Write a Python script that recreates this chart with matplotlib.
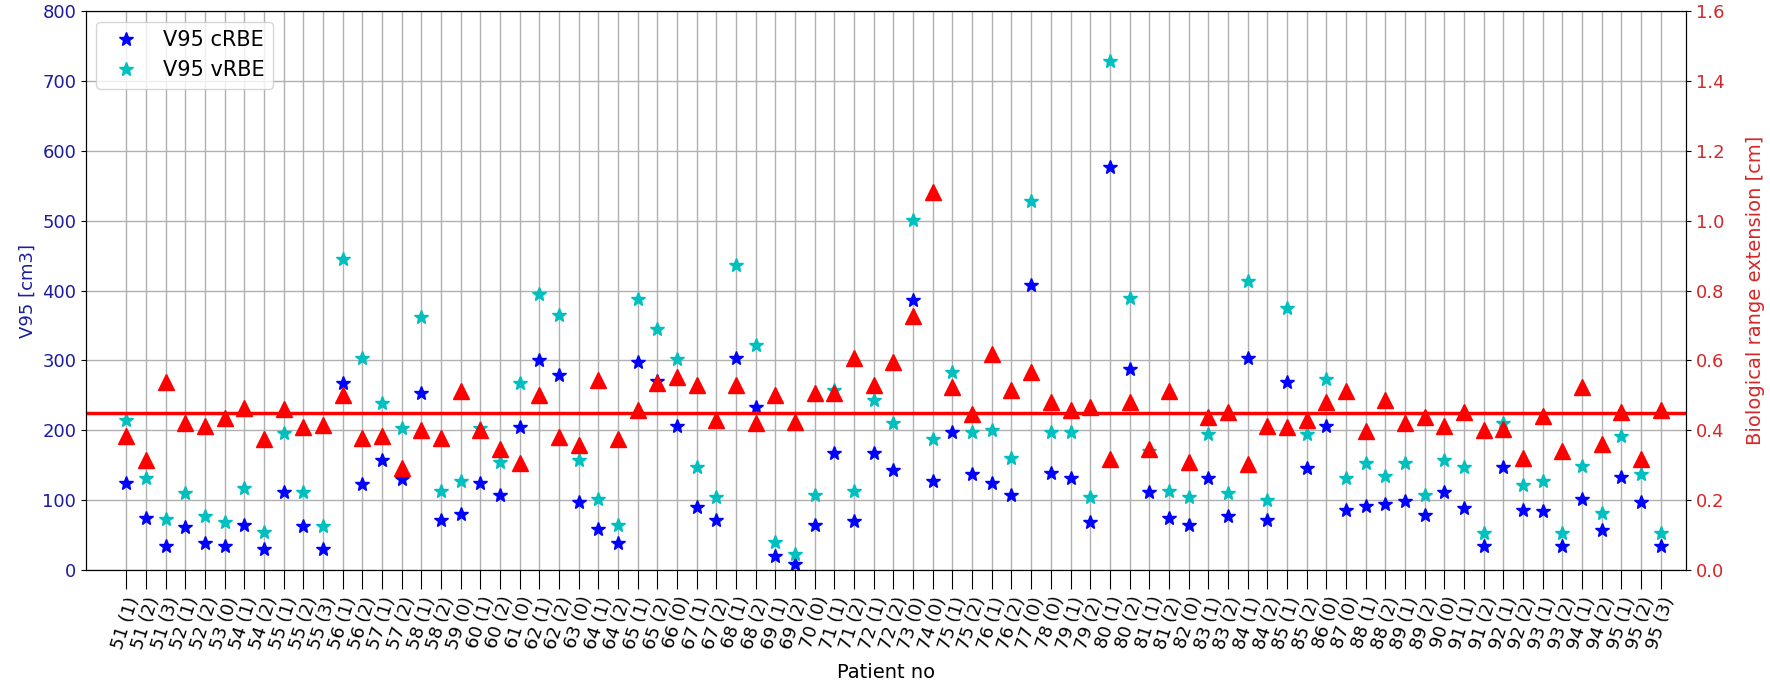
import matplotlib
matplotlib.use("Agg")
import matplotlib.pyplot as plt

# patient / plan labels
labels = ["51 (1)", "51 (2)", "51 (3)", "52 (1)", "52 (2)", "53 (0)", "54 (1)", "54 (2)",
          "55 (1)", "55 (2)", "55 (3)", "56 (1)", "56 (2)", "57 (1)", "57 (2)", "58 (1)",
          "58 (2)", "59 (0)", "60 (1)", "60 (2)", "61 (0)", "62 (1)", "62 (2)", "63 (0)",
          "64 (1)", "64 (2)", "65 (1)", "65 (2)", "66 (0)", "67 (1)", "67 (2)", "68 (1)",
          "68 (2)", "69 (1)", "69 (2)", "70 (0)", "71 (1)", "71 (2)", "72 (1)", "72 (2)",
          "73 (0)", "74 (0)", "75 (1)", "75 (2)", "76 (1)", "76 (2)", "77 (0)", "78 (0)",
          "79 (1)", "79 (2)", "80 (1)", "80 (2)", "81 (1)", "81 (2)", "82 (0)", "83 (1)",
          "83 (2)", "84 (1)", "84 (2)", "85 (1)", "85 (2)", "86 (0)", "87 (0)", "88 (1)",
          "88 (2)", "89 (1)", "89 (2)", "90 (0)", "91 (1)", "91 (2)", "92 (1)", "92 (2)",
          "93 (1)", "93 (2)", "94 (1)", "94 (2)", "95 (1)", "95 (2)", "95 (3)"]

v95_crbe = [124, 75, 34, 61, 38, 35, 65, 30, 111, 63, 30, 268,
            123, 157, 130, 253, 71, 80, 124, 107, 204, 300, 279, 97, 58, 38,
            298, 270, 206, 90, 71, 304, 234, 20, 9, 65, 167, 70, 167,
            143, 386, 127, 198, 138, 125, 107, 408, 139, 132, 68, 577, 287,
            111, 75, 65, 131, 77, 304, 71, 269, 146, 206, 86, 91, 94, 99,
            78, 111, 89, 35, 147, 86, 85, 35, 102, 57, 133, 97, 35]

v95_vrbe = [215, 131, 73, 110, 77, 68, 117, 54, 196, 111, 63, 445,
            303, 239, 203, 362, 113, 128, 203, 154, 267, 395, 365, 157, 102, 65,
            388, 345, 302, 147, 104, 437, 322, 40, 23, 107, 257, 113, 244,
            210, 501, 187, 284, 197, 201, 161, 528, 198, 197, 104, 728, 390,
            170, 113, 104, 195, 110, 414, 100, 375, 195, 274, 132, 153, 134, 153,
            107, 158, 147, 53, 210, 122, 127, 53, 149, 82, 192, 138, 53]

range_ext = [0.383, 0.314, 0.537, 0.421, 0.413, 0.436, 0.463, 0.376, 0.46, 0.41, 0.415, 0.50,
             0.378, 0.384, 0.291, 0.40, 0.378, 0.511, 0.402, 0.346, 0.307, 0.50, 0.381, 0.357, 0.545, 0.376,
             0.458, 0.535, 0.552, 0.529, 0.429, 0.529, 0.42, 0.50, 0.425, 0.506, 0.506, 0.608, 0.529,
             0.596, 0.727, 1.083, 0.524, 0.447, 0.619, 0.516, 0.566, 0.481, 0.457, 0.466, 0.317, 0.481,
             0.346, 0.511, 0.309, 0.437, 0.452, 0.304, 0.413, 0.41, 0.429, 0.481, 0.513, 0.399, 0.487, 0.421,
             0.437, 0.413, 0.452, 0.402, 0.405, 0.321, 0.441, 0.341, 0.524, 0.362, 0.452, 0.317, 0.458]

mean_range = 0.45

x = list(range(len(labels)))

fig, ax = plt.subplots(figsize=(17.7, 6.93), dpi=100)
fig.subplots_adjust(left=0.0486, right=0.9525, bottom=0.1775, top=0.984)

ax.plot(x, v95_crbe, linestyle='', marker='*', color='blue', markersize=10, label='V95 cRBE')
ax.plot(x, v95_vrbe, linestyle='', marker='*', color='c', markersize=10, label='V95 vRBE')
ax.set_ylim(0, 800)
ax.set_xlim(-2.04, 79.28)
ax.set_xticks(x)
ax.set_xticklabels(labels, rotation=72, ha='center', fontsize=13)
ax.tick_params(axis='x', length=14)
ax.tick_params(axis='y', labelsize=13, labelcolor='#1c1ca0')
ax.set_ylabel('V95 [cm3]', color='#1c1ca0', fontsize=13)
ax.set_xlabel('Patient no', fontsize=14, labelpad=8)
ax.grid(True, color='#b0b0b0', linewidth=1.0)
ax.set_axisbelow(True)
ax.legend(loc='upper left', fontsize=15)

ax2 = ax.twinx()
ax2.plot(x, range_ext, linestyle='', marker='^', color='red', markersize=11)
ax2.axhline(mean_range, color='red', linewidth=2.5)
ax2.set_ylim(0, 1.6)
ax2.tick_params(axis='y', labelsize=13, labelcolor='tab:red')
ax2.set_ylabel('Biological range extension [cm]', color='tab:red', fontsize=14, labelpad=16)

plt.savefig('out.png', dpi=100)
